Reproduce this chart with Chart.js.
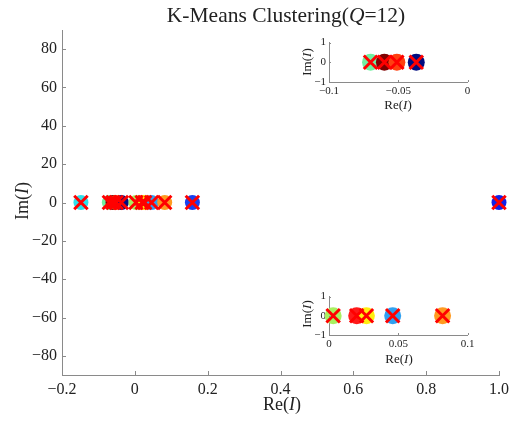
<!DOCTYPE html>
<html>
<head>
<meta charset="utf-8">
<script src="https://cdn.jsdelivr.net/npm/chart.js@4/dist/chart.umd.min.js"></script>
<style>
  body { margin: 0; background: #fff; }
  #wrap { position: relative; width: 514px; height: 421px; }
  canvas { position: absolute; }
</style>
</head>
<body>
<div id="wrap">
  <canvas id="main" width="514" height="421" style="left:0;top:0"></canvas>
  <canvas id="inset1" width="200" height="90" style="left:280px;top:30px"></canvas>
  <canvas id="inset2" width="200" height="90" style="left:280px;top:284px"></canvas>
</div>
<script>
// cluster colours and the Re(I) values of their members (Im(I) is 0 for all)
const clusterColors = ['#2ee0ea', '#70f0a0', '#800000', '#ff4010', '#000c80', '#a8f060',
                       '#ff1a1a', '#ffee10', '#30a0f0', '#ff9a20', '#1840f0', '#1020e8'];
const clusterRe = [
    [-0.148],
    [-0.070],
    [-0.060],
    [-0.051],
    [-0.037],
    [0.003],
    [0.020],
    [0.027],
    [0.046],
    [0.082],
    [0.158],
    [1.0]
];

const mainXTicks = [-0.2, 0, 0.2, 0.4, 0.6, 0.8, 1.0];
const mainXLabels = ['\u22120.2', '0', '0.2', '0.4', '0.6', '0.8', '1.0'];
const mainYTicks = [-80, -60, -40, -20, 0, 20, 40, 60, 80];
const mainYLabels = ['\u221280', '\u221260', '\u221240', '\u221220', '0', '20', '40', '60', '80'];

const inset1XTicks = [-0.1, -0.05, 0];
const inset1XLabels = ['\u22120.1', '\u22120.05', '0'];
const inset2XTicks = [0, 0.05, 0.1];
const inset2XLabels = ['0', '0.05', '0.1'];
const insetYTicks = [-1, 0, 1];
const insetYLabels = ['\u22121', '0', '1'];

const serif = "'Liberation Serif', 'DejaVu Serif', serif";
const axisColor = '#8a8a8a';
const textColor = '#222';

function buildDatasets(xmin, xmax, r, xr) {
    const pts = [], cols = [];
    clusterRe.forEach((vals, i) => {
        vals.forEach(v => {
            if (v >= xmin && v <= xmax) {
                pts.push({ x: v, y: 0 });
                cols.push(clusterColors[i]);
            }
        });
    });
    // lower "order" is drawn on top, so the crosses sit over the dots
    return [
        {
            data: pts,
            order: 2,
            pointStyle: 'circle',
            pointRadius: r,
            pointBackgroundColor: cols,
            pointBorderColor: cols,
            pointBorderWidth: 0,
            clip: false
        },
        {
            data: pts.map(p => ({ x: p.x, y: p.y })),
            order: 1,
            pointStyle: 'crossRot',
            pointRadius: xr,
            pointBorderColor: '#ff0000',
            pointBorderWidth: 3,
            clip: false
        }
    ];
}

// draw text where some parts are italic, centred on (x, y)
function drawMixed(ctx, parts, x, y, size, rotate) {
    ctx.save();
    ctx.translate(x, y);
    if (rotate) ctx.rotate(-Math.PI / 2);
    ctx.fillStyle = textColor;
    ctx.textBaseline = 'middle';
    ctx.textAlign = 'left';
    let total = 0;
    parts.forEach(p => {
        ctx.font = (p[1] ? 'italic ' : '') + size + 'px ' + serif;
        total += ctx.measureText(p[0]).width;
    });
    let cx = -total / 2;
    parts.forEach(p => {
        ctx.font = (p[1] ? 'italic ' : '') + size + 'px ' + serif;
        ctx.fillText(p[0], cx, 0);
        cx += ctx.measureText(p[0]).width;
    });
    ctx.restore();
}

function makeChart(id, cfg) {
    const tickMarks = {
        id: 'tickMarks',
        afterDraw(chart) {
            const ctx = chart.ctx;
            const xs = chart.scales.x, ys = chart.scales.y;
            ctx.save();
            ctx.strokeStyle = axisColor;
            ctx.lineWidth = 1;
            ctx.beginPath();
            xs.ticks.forEach(t => {
                const px = Math.round(xs.getPixelForValue(t.value)) + 0.5;
                ctx.moveTo(px, ys.bottom);
                ctx.lineTo(px, ys.bottom - cfg.tickLen);
            });
            ys.ticks.forEach(t => {
                const py = Math.round(ys.getPixelForValue(t.value)) + 0.5;
                ctx.moveTo(xs.left, py);
                ctx.lineTo(xs.left + cfg.tickLen, py);
            });
            ctx.stroke();
            ctx.restore();
            cfg.texts.forEach(t => drawMixed(ctx, t.parts, t.x, t.y, t.size, t.rotate));
        }
    };

    return new Chart(document.getElementById(id), {
        type: 'scatter',
        data: { datasets: buildDatasets(cfg.xmin, cfg.xmax, cfg.radius, cfg.crossRadius) },
        options: {
            responsive: false,
            animation: false,
            layout: { padding: cfg.padding },
            plugins: { legend: { display: false }, tooltip: { enabled: false } },
            scales: {
                x: {
                    type: 'linear',
                    min: cfg.xmin,
                    max: cfg.xmax,
                    afterBuildTicks: s => { s.ticks = cfg.xTicks.map(v => ({ value: v })); },
                    afterFit: s => { s.height = cfg.xHeight; },
                    grid: { display: false, drawTicks: false },
                    border: { display: true, color: axisColor, width: 1 },
                    ticks: {
                        autoSkip: false,
                        maxRotation: 0,
                        padding: cfg.xPad,
                        color: textColor,
                        font: { family: serif, size: cfg.tickSize },
                        callback: (v, i) => cfg.xLabels[i]
                    }
                },
                y: {
                    type: 'linear',
                    min: cfg.ymin,
                    max: cfg.ymax,
                    afterBuildTicks: s => { s.ticks = cfg.yTicks.map(v => ({ value: v })); },
                    afterFit: s => { s.width = cfg.yWidth; },
                    grid: { display: false, drawTicks: false },
                    border: { display: true, color: axisColor, width: 1 },
                    ticks: {
                        autoSkip: false,
                        padding: cfg.yPad,
                        color: textColor,
                        font: { family: serif, size: cfg.tickSize },
                        callback: (v, i) => cfg.yLabels[i]
                    }
                }
            }
        },
        plugins: [tickMarks]
    });
}

makeChart('main', {
    xmin: -0.2, xmax: 1.0, ymin: -90, ymax: 90,
    xTicks: mainXTicks, xLabels: mainXLabels,
    yTicks: mainYTicks, yLabels: mainYLabels,
    radius: 7.5, crossRadius: 9.5, tickLen: 4, tickSize: 16,
    padding: { top: 30, right: 13, left: 0, bottom: 0 },
    xHeight: 46, yWidth: 62, xPad: 5, yPad: 5,
    texts: [
        { parts: [['K-Means Clustering(', false], ['Q', true], ['=12)', false]], x: 286, y: 16, size: 21.5 },
        { parts: [['Re(', false], ['I', true], [')', false]], x: 282, y: 405, size: 18 },
        { parts: [['Im(', false], ['I', true], [')', false]], x: 23, y: 201, size: 18, rotate: true }
    ]
});

makeChart('inset1', {
    xmin: -0.1, xmax: 0, ymin: -1, ymax: 1,
    xTicks: inset1XTicks, xLabels: inset1XLabels,
    yTicks: insetYTicks, yLabels: insetYLabels,
    radius: 8.5, crossRadius: 9.5, tickLen: 2, tickSize: 11,
    padding: { top: 10, right: 12, left: 0, bottom: 0 },
    xHeight: 38, yWidth: 49, xPad: 3, yPad: 3,
    texts: [
        { parts: [['Re(', false], ['I', true], [')', false]], x: 118, y: 76, size: 13 },
        { parts: [['Im(', false], ['I', true], [')', false]], x: 28, y: 32, size: 13, rotate: true }
    ]
});

makeChart('inset2', {
    xmin: 0, xmax: 0.1, ymin: -1, ymax: 1,
    xTicks: inset2XTicks, xLabels: inset2XLabels,
    yTicks: insetYTicks, yLabels: insetYLabels,
    radius: 8.5, crossRadius: 9.5, tickLen: 2, tickSize: 11,
    padding: { top: 10, right: 11, left: 0, bottom: 0 },
    xHeight: 39, yWidth: 49, xPad: 3, yPad: 3,
    texts: [
        { parts: [['Re(', false], ['I', true], [')', false]], x: 119, y: 76, size: 13 },
        { parts: [['Im(', false], ['I', true], [')', false]], x: 28, y: 30, size: 13, rotate: true }
    ]
});
</script>
</body>
</html>
